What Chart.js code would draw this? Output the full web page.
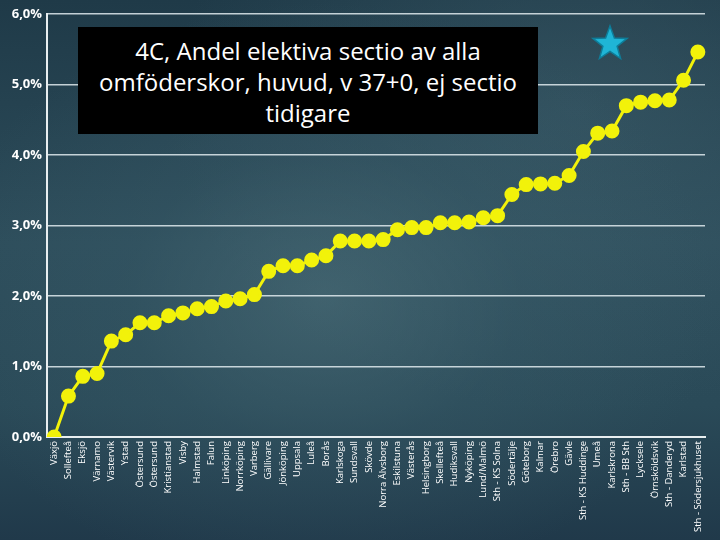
<!DOCTYPE html>
<html>
<head>
<meta charset="utf-8">
<script src="https://cdn.jsdelivr.net/npm/chart.js@4/dist/chart.umd.min.js"></script>
<style>
	html, body { margin: 0; padding: 0; }
	body {
		width: 720px; height: 540px; overflow: hidden; position: relative;
		background:
			radial-gradient(ellipse at 45% 55%, rgba(80,115,125,0.55) 0%, rgba(60,95,108,0.3) 35%, rgba(0,0,0,0) 70%),
			radial-gradient(ellipse at 80% 20%, rgba(70,105,118,0.4) 0%, rgba(0,0,0,0) 50%),
			linear-gradient(180deg, #1f3a48 0%, #2d4d5b 45%, #2a4a58 75%, #20394a 100%);
	}
	#wrap { position: absolute; left: 0; top: 0; width: 720px; height: 540px; }
	.title-box {
		position: absolute; left: 78px; top: 27px; width: 460px; height: 107px;
		background: #000; color: #fff; text-align: center;
		font-family: 'Open Sans', sans-serif; font-size: 24px; line-height: 31px;
		padding-top: 8px; box-sizing: border-box;
	}
</style>
</head>
<body>
<div id="wrap"><canvas id="chart" width="720" height="540"></canvas></div>
<div class="title-box">4C, Andel elektiva sectio av alla omföderskor, huvud, v 37+0, ej sectio tidigare</div>
<script>
const d = document,
	$chart = d.getElementById('chart')

const clinics = [
	'Växjö', 'Sollefteå', 'Eksjö', 'Värnamo', 'Västervik', 'Ystad', 'Östersund', 'Östersund',
	'Kristianstad', 'Visby', 'Halmstad', 'Falun', 'Linköping', 'Norrköping', 'Varberg', 'Gällivare',
	'Jönköping', 'Uppsala', 'Luleå', 'Borås', 'Karlskoga', 'Sundsvall', 'Skövde', 'Norra Älvsborg',
	'Eskilstuna', 'Västerås', 'Helsingborg', 'Skellefteå', 'Hudiksvall', 'Nyköping', 'Lund/Malmö',
	'Sth - KS Solna', 'Södertälje', 'Göteborg', 'Kalmar', 'Örebro', 'Gävle', 'Sth - KS Huddinge',
	'Umeå', 'Karlskrona', 'Sth - BB Sth', 'Lycksele', 'Örnsköldsvik', 'Sth - Danderyd', 'Karlstad',
	'Sth - Södersjukhuset'
]
const shares = [
	0.0, 0.58, 0.86, 0.90, 1.36, 1.45, 1.62, 1.62,
	1.72, 1.76, 1.82, 1.85, 1.93, 1.96, 2.02, 2.35,
	2.43, 2.43, 2.51, 2.57, 2.78, 2.78, 2.78, 2.80,
	2.94, 2.97, 2.97, 3.04, 3.04, 3.05, 3.11,
	3.14, 3.44, 3.58, 3.59, 3.60, 3.71, 4.05,
	4.31, 4.34, 4.70, 4.75, 4.77, 4.78, 5.06,
	5.46
]
const yTicks = [0, 1, 2, 3, 4, 5, 6]

// blue star, top right
const starPlugin = {
	id: 'star',
	afterDraw(chart) {
		const ctx = chart.ctx, cx = 610, cy = 44, R = 18, r = 7.5
		ctx.save()
		ctx.beginPath()
		for (let i = 0; i < 10; i++) {
			const a = -Math.PI / 2 + i * Math.PI / 5, rad = i % 2 ? r : R
			ctx.lineTo(cx + rad * Math.cos(a), cy + rad * Math.sin(a))
		}
		ctx.closePath()
		ctx.fillStyle = '#1fb5d6'
		ctx.fill()
		ctx.strokeStyle = '#0e7d99'
		ctx.lineWidth = 1.5
		ctx.stroke()
		ctx.restore()
	}
}

new Chart($chart, {
	type: 'line',
	data: {
		labels: clinics,
		datasets: [{
			data: shares,
			borderColor: '#f2f20a',
			backgroundColor: '#f2f20a',
			borderWidth: 3,
			pointRadius: 6,
			pointHoverRadius: 6,
			tension: 0
		}]
	},
	options: {
		responsive: false,
		animation: false,
		layout: { padding: { top: 14, right: 15, left: 0, bottom: 0 } },
		plugins: { legend: { display: false }, tooltip: { enabled: false } },
		scales: {
			x: {
				offset: true,
				grid: { display: false, drawTicks: false },
				border: { color: '#e8eef0', width: 2 },
				ticks: {
					color: '#ffffff', autoSkip: false, maxRotation: 90, minRotation: 90,
					font: { family: 'Open Sans', size: 9.5 }, padding: 4
				},
				afterFit(scale) { scale.height = 103 }
			},
			y: {
				min: 0, max: 6,
				afterBuildTicks(scale) { scale.ticks = yTicks.map(v => ({ value: v })) },
				grid: { color: 'rgba(225,235,238,0.85)', lineWidth: 1.5, drawTicks: false },
				border: { color: '#e8eef0', width: 2 },
				ticks: {
					color: '#ffffff', padding: 5,
					font: { family: 'Open Sans', size: 13, weight: 'bold' },
					callback: v => v.toFixed(1).replace('.', ',') + '%'
				},
				afterFit(scale) { scale.width = 47 }
			}
		}
	},
	plugins: [starPlugin]
})
</script>
</body>
</html>
